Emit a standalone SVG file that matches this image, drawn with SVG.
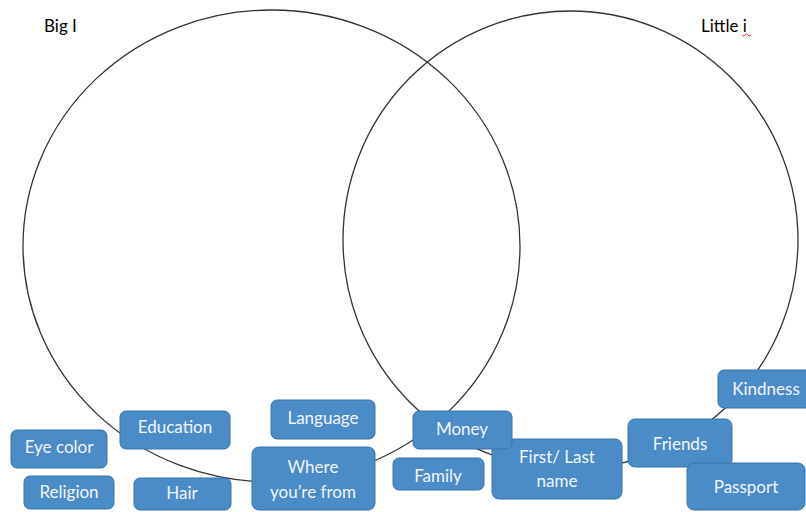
<svg xmlns="http://www.w3.org/2000/svg" width="806" height="512" viewBox="0 0 806 512">
<style>
.c{fill:none;stroke:#333;stroke-width:1.3}
.b{fill:#4a8cc8;stroke:#3a72a6;stroke-width:1}
.t{font-family:Lato,"Liberation Sans",sans-serif;font-size:17px;fill:#f2f6fa;text-anchor:middle}
.h{font-family:Lato,"Liberation Sans",sans-serif;font-size:17px;fill:#000}
</style>
<rect width="806" height="512" fill="#fff"/>
<g id="circles">
<ellipse class="c" cx="271.5" cy="246" rx="248.5" ry="236"/>
<ellipse class="c" cx="570.5" cy="240" rx="227.5" ry="229"/>
</g>
<g id="labels">
<text class="h" x="44" y="32">Big I</text>
<text class="h" x="701" y="32">Little i</text>
<path d="M742 35 q1.5 2 3 0 t3 0 t3 0" fill="none" stroke="#d33" stroke-width="1"/>
</g>
<g id="connectors"></g>
<g id="eye-color"><rect class="b" x="11" y="430" width="96" height="38" rx="6"/><text class="t" x="59" y="453">Eye color</text></g>
<g id="religion"><rect class="b" x="24" y="476" width="90" height="33" rx="6"/><text class="t" x="69" y="498">Religion</text></g>
<g id="hair"><rect class="b" x="134" y="478" width="97" height="32" rx="6"/><text class="t" x="182" y="499">Hair</text></g>
<g id="education"><rect class="b" x="120" y="411" width="110" height="38" rx="6"/><text class="t" x="175" y="433">Education</text></g>
<g id="language"><rect class="b" x="271" y="400" width="104" height="39" rx="6"/><text class="t" x="323" y="424">Language</text></g>
<g id="where-from"><rect class="b" x="252" y="447" width="123" height="63" rx="7"/><text class="t" x="313" y="473">Where</text><text class="t" x="313" y="498">you’re from</text></g>
<g id="family"><rect class="b" x="393" y="458" width="91" height="32" rx="6"/><text class="t" x="438" y="482">Family</text></g>
<g id="first-last-name"><rect class="b" x="492" y="439" width="130" height="60" rx="7"/><text class="t" x="557" y="463">First/ Last</text><text class="t" x="557" y="487">name</text></g>
<g id="money"><rect class="b" x="413" y="411" width="99" height="38" rx="6"/><text class="t" x="462" y="435">Money</text></g>
<g id="friends"><rect class="b" x="628" y="419" width="104" height="48" rx="7"/><text class="t" x="680" y="450">Friends</text></g>
<g id="passport"><rect class="b" x="687" y="463" width="118" height="47" rx="7"/><text class="t" x="746" y="493">Passport</text></g>
<g id="kindness"><rect class="b" x="718" y="370" width="94" height="38" rx="6"/><text class="t" x="766" y="395">Kindness</text></g>
</svg>
